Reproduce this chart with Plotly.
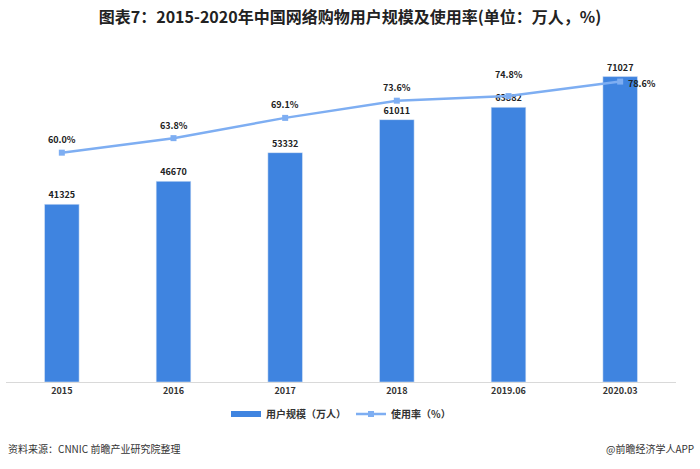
import plotly.graph_objects as go

categories = ["2015", "2016", "2017", "2018", "2019.06", "2020.03"]
users = [41325, 46670, 53332, 61011, 63882, 71027]
rate = [60.0, 63.8, 69.1, 73.6, 74.8, 78.6]

BAR = "#3F84E0"
LINE = "#7EAEF2"
FONT = "Noto Sans CJK SC"
xi = list(range(len(categories)))

fig = go.Figure()
fig.add_trace(go.Bar(
    x=xi, y=users, name="用户规模（万人）", showlegend=False,
    marker_color=BAR, width=0.31,
    text=[f"<b>{v}</b>" for v in users], textposition="outside",
    textfont=dict(size=9, color="#222222", family=FONT),
    cliponaxis=False,
))
# legend entry for bars drawn as a wide swatch
fig.add_trace(go.Scatter(
    x=[None], y=[None], name="<b>用户规模（万人）</b>", mode="lines",
    line=dict(color=BAR, width=6),
))
fig.add_trace(go.Scatter(
    x=xi, y=rate, name="<b>使用率（%）</b>", yaxis="y2",
    mode="lines+markers", line=dict(color=LINE, width=2.5),
    marker=dict(symbol="square", size=6, color=LINE),
))

yshift = [13, 13, 13, 13, 22, -2]
xshift = [0, 0, 0, 0, 0, 22]
anns = []
for i, r, ys, xs in zip(xi, rate, yshift, xshift):
    anns.append(dict(x=i, y=r, xref="x", yref="y2", text=f"<b>{r:.1f}%</b>", showarrow=False,
                     yshift=ys, xshift=xs,
                     font=dict(size=9, color="#222222", family=FONT)))
anns += [
    dict(text="资料来源：CNNIC 前瞻产业研究院整理", xref="paper", yref="paper",
         x=0.0, y=-0.192, xanchor="left", yanchor="middle", showarrow=False,
         font=dict(size=10, color="#333333", family=FONT)),
    dict(text="@前瞻经济学人APP", xref="paper", yref="paper",
         x=1.03, y=-0.192, xanchor="right", yanchor="middle", showarrow=False,
         font=dict(size=10, color="#333333", family=FONT)),
]

fig.update_layout(
    width=700, height=469,
    margin=dict(l=6, r=24, t=38, b=87),
    paper_bgcolor="white", plot_bgcolor="white",
    title=dict(text="<b>图表7：2015-2020年中国网络购物用户规模及使用率(单位：万人，%)</b>",
               x=0.5, xanchor="center", y=0.962, yanchor="middle",
               font=dict(size=16, color="#222222", family=FONT)),
    xaxis=dict(showline=True, linecolor="#D9D9D9", linewidth=1, ticks="",
               tickmode="array", tickvals=xi, ticktext=[f"<b>{c}</b>" for c in categories],
               tickfont=dict(size=9, color="#333333", family=FONT),
               range=[-0.5, len(categories) - 0.5], showgrid=False, zeroline=False),
    yaxis=dict(range=[0, 80000], visible=False, showgrid=False),
    yaxis2=dict(range=[0, 90], overlaying="y", side="right", visible=False, showgrid=False),
    showlegend=True,
    legend=dict(orientation="h", x=0.5, xanchor="center", y=-0.093, yanchor="middle",
                font=dict(size=10, color="#333333", family=FONT),
                traceorder="normal"),
    annotations=anns,
)

fig.write_html("out.html", config={"displayModeBar": False})
with open("out.html", encoding="utf-8") as f:
    html = f.read()
html = html.replace("<head>", "<head><style>html,body{margin:0;padding:0;overflow:hidden;}</style>", 1)
with open("out.html", "w", encoding="utf-8") as f:
    f.write(html)
